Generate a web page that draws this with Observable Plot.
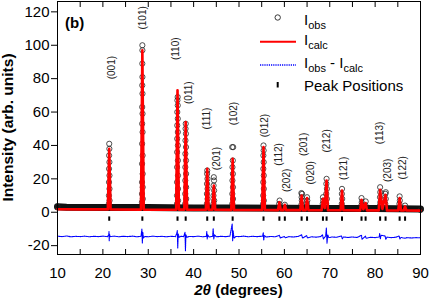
<!DOCTYPE html>
<html><head><meta charset="utf-8">
<script src="https://cdn.jsdelivr.net/npm/d3@7"></script>
<script src="https://cdn.jsdelivr.net/npm/@observablehq/plot@0.6"></script>
<style>html,body{margin:0;padding:0;background:#fff;}</style>
</head><body><div id="chart"></div>
<script>
// ---- data ----
const xTickLabels = [10, 20, 30, 40, 50, 60, 70, 80, 90];
const xTickMarks = [10, 15, 20, 25, 30, 35, 40, 45, 50, 55, 60, 65, 70, 75, 80, 85, 90];
const yTickLabels = [-20, 0, 20, 40, 60, 80, 100, 120];

const peakPositions = [21.4, 28.7, 36.45, 38.25, 43.0, 44.45, 48.6, 55.4, 58.9, 60.1, 63.8, 65.0, 68.5, 69.3, 72.7, 77.0, 77.9, 81.1, 82.3, 85.4, 86.6];

const hklLabels = ["(001)","(101)","(110)","(011)","(111)","(201)","(102)","(012)","(112)","(202)","(201)","(020)","(212)","(121)","(113)","(203)","(122)"];
const hklX = [21.97, 28.77, 36.15, 38.96, 42.8, 45.0, 48.8, 55.7, 58.7, 60.5, 64.2, 65.9, 69.4, 73.1, 81.1, 82.7, 86.0];
const hklY = [86.6, 116.4, 97.9, 71.6, 56.1, 32.2, 59.1, 51.9, 34.6, 19.1, 40.6, 23.6, 42.7, 26.3, 47.5, 25.1, 26.6];

// observed background band
const obsBackground = [[10,3.3],[12,3.0],[20,2.9],[30,2.8],[40,2.6],[50,2.5],[60,2.4],[70,2.3],[80,2.2],[90,2.0]];

// observed points on the peaks
const obsPoints = [
[10,3.5],
[21.32,5],[21.48,7],[21.34,10],[21.46,14],[21.35,18],[21.45,22],[21.36,26],[21.44,30],[21.37,34],[21.43,38],[21.4,41],
[28.6,6],[28.8,8],[28.62,11],[28.78,15],[28.63,18],[28.77,23],[28.64,29],[28.76,34],[28.65,41],[28.75,48],[28.66,53],[28.74,59],[28.67,63],[28.73,71],[28.68,76],[28.72,81],[28.69,89],[28.71,97],[28.7,100],
[36.33,5],[36.57,7],[36.34,10],[36.56,14],[36.35,18],[36.55,22],[36.36,27],[36.54,31],[36.37,36],[36.53,40],[36.38,44],[36.52,48],[36.39,52],[36.51,56],[36.4,60],[36.5,64],[36.42,67],[36.48,69],
[38.14,5],[38.36,8],[38.15,11],[38.35,15],[38.16,19],[38.34,23],[38.17,27],[38.33,31],[38.18,35],[38.32,39],[38.2,43],[38.3,47],[38.22,50],[38.26,53],
[42.92,5],[43.08,8],[42.93,11],[43.07,14],[42.95,17],[43.05,20],[42.97,23],[43.0,25],
[44.37,5],[44.53,7],[44.38,10],[44.52,13],[44.4,16],[44.5,19],[44.45,21],
[48.52,5],[48.68,8],[48.53,11],[48.67,15],[48.55,19],[48.65,23],[48.56,27],[48.64,31],[48.5,39],[48.72,39],
[55.32,5],[55.48,7],[55.33,10],[55.47,14],[55.34,18],[55.46,22],[55.36,26],[55.44,30],[55.37,34],[55.43,37],[55.4,40],
[58.85,5],[58.95,7],
[60.1,4.5],
[63.75,4.5],[63.85,7],[63.8,9],[63.75,11.5],[63.9,11],
[64.95,5],[65.05,7],[65.0,9],
[68.45,5],[68.55,7],[68.5,9],
[69.22,5],[69.38,8],[69.23,11],[69.37,14],[69.25,17],[69.3,20],
[72.65,5],[72.75,8],[72.67,11],[72.7,14],
[76.95,4],[77.05,6],[77.0,8.5],
[77.9,4],[77.92,6.5],
[81.05,4],[81.15,6],[81.07,9],[81.13,12],[81.1,15],
[82.25,5],[82.35,8],[82.27,11],[82.35,12],
[85.35,5],[85.45,7],[85.4,9.5],
[86.6,4],
[90,1.3]
];

// calculated profile
const calcProfile = [
[10,1.8],[15,1.75],[21.1,1.7],[21.4,38],[21.7,1.7],[28.4,1.6],[28.7,97],[29.0,1.6],
[36.15,1.5],[36.45,73],[36.75,1.6],[37.95,1.6],[38.25,54],[38.55,1.5],
[42.7,1.5],[43.0,26],[43.3,1.5],[44.15,1.5],[44.45,16],[44.75,1.5],
[48.3,1.4],[48.6,32],[48.9,1.4],[55.1,1.35],[55.4,39],[55.7,1.35],
[58.6,1.3],[58.9,6],[59.2,1.3],[59.8,1.3],[60.1,4.5],[60.4,1.3],
[63.5,1.25],[63.8,10],[64.1,1.25],[64.7,1.25],[65.0,8.5],[65.3,1.25],
[68.2,1.2],[68.5,8],[68.9,2.5],[69.3,19],[69.6,1.2],[72.4,1.2],[72.7,13],[73.0,1.2],
[76.7,1.15],[77.0,7.5],[77.4,1.8],[77.9,5.5],[78.2,1.15],
[80.8,1.1],[81.1,13.5],[81.6,2],[82.3,10.5],[82.6,1.1],
[85.1,1.05],[85.4,8.5],[85.7,1.05],[86.3,1.05],[86.6,3.5],[86.9,1.05],[90,1.0]
];

// difference curve
const diffCurve = [
[10,-14.3],[11,-14.6],[12,-14.2],[13,-14.7],[14,-14.4],[15,-14.6],[16,-14.3],[17,-14.7],[18,-14.4],[19,-14.6],[20,-14.3],[21,-14.6],
[21.3,-13.5],[21.35,-11.5],[21.4,-17],[21.45,-13],[21.6,-14.6],[22.5,-14.3],[23.5,-14.7],[24.5,-14.4],[25.5,-14.6],[26.5,-14.3],[27.5,-14.7],
[28.4,-14.4],[28.6,-10],[28.7,-18.5],[28.8,-12],[28.95,-15.5],[29.2,-14.5],[30,-14.7],[31,-14.3],[32,-14.6],[33,-14.4],[34,-14.7],[35,-14.4],[36,-14.6],
[36.3,-12.5],[36.4,-11],[36.5,-21.5],[36.6,-13],[36.8,-15],[37.2,-14.4],[37.8,-14.6],[38.1,-12],[38.2,-23],[38.3,-13.5],[38.5,-15],
[39,-14.5],[40,-14.6],[41,-14.3],[42,-14.7],[42.8,-14.4],[42.9,-11.5],[43.0,-16],[43.1,-13.5],[43.4,-14.8],[44.2,-14.4],[44.3,-9.8],[44.45,-16],[44.6,-13.5],
[45,-14.7],[46,-14.4],[47,-14.6],[48,-14.3],[48.5,-7],[48.6,-17],[48.7,-11],[48.9,-15.5],[49.3,-14.5],[50,-14.6],[51,-14.3],[52,-14.7],[53,-14.4],[54,-14.6],
[55.2,-14.3],[55.35,-12.3],[55.45,-16.7],[55.6,-14],[56,-14.8],[57,-14.5],[58,-14.7],[58.9,-13.8],[59.1,-15.4],[60,-14.5],[60.2,-15.3],[61,-14.6],[62,-14.8],[63,-14.5],
[63.8,-13.5],[64,-15.5],[64.9,-14],[65.1,-15.4],[66,-14.7],[67,-14.9],[68,-14.6],[68.4,-13.5],[68.6,-16],[69.1,-14.2],[69.25,-9.5],[69.4,-18.5],[69.55,-13.5],[69.8,-15.2],
[70.5,-14.8],[71.5,-15.0],[72.6,-14.2],[72.75,-16],[73,-14.8],[74,-15.1],[75,-14.8],[76,-15.1],[77.0,-13.8],[77.1,-16.2],[77.9,-14.3],[78,-15.6],[79,-15],[80,-15.2],
[80.9,-14.8],[81.0,-12.6],[81.15,-16],[81.3,-13.8],[82.2,-14.2],[82.35,-16.3],[82.6,-14.9],[83.5,-15.2],[84.5,-15],[85.3,-14.2],[85.45,-16],[85.7,-15.1],
[86.6,-15.6],[87,-15.2],[88,-15.4],[89,-15.2],[90,-15.3]
];

// ---- chart ----
const FONT = "'Liberation Sans', Arial, Helvetica, sans-serif";
const svg = Plot.plot({
  width: 429, height: 307,
  marginLeft: 57, marginRight: 9, marginTop: 1, marginBottom: 53,
  style: {fontFamily: FONT, background: "#fff", color: "#000", overflow: "visible"},
  x: {domain: [10, 90]},
  y: {domain: [-25.3, 126.2]},
  marks: [
    Plot.line(obsBackground, {x: d => d[0], y: d => d[1], stroke: "#111", strokeWidth: 7}),
    Plot.dot(obsPoints, {x: d => d[0], y: d => d[1], r: 2.6, stroke: "#222", strokeWidth: 0.8, fill: "none"}),
    Plot.line(calcProfile, {x: d => d[0], y: d => d[1], stroke: "#ff0000", strokeWidth: 2.6, strokeLinejoin: "round"}),
    Plot.line(diffCurve, {x: d => d[0], y: d => d[1], stroke: "#0000ff", strokeWidth: 1.1, strokeDasharray: "1.2,0.7"}),
    Plot.ruleX(peakPositions, {x: d => d, y1: -2.8, y2: -5.4, stroke: "#000", strokeWidth: 2}),
    Plot.text(hklLabels, {x: (d, i) => hklX[i], y: (d, i) => hklY[i], text: d => d, rotate: -90, fontSize: 10, fill: "#222"}),
    Plot.frame({stroke: "#000", strokeWidth: 1}),
    Plot.axisX(xTickLabels, {anchor: "bottom", tickSize: 0, tickPadding: 13, fontSize: 15, label: null, fill: "#000"}),
    Plot.axisX(xTickMarks, {anchor: "bottom", tickSize: -5, tickFormat: () => "", label: null}),
    Plot.axisX(xTickMarks, {anchor: "top", tickSize: -5, tickFormat: () => "", label: null}),
    Plot.axisY(yTickLabels, {anchor: "left", tickSize: 6, tickPadding: 2, fontSize: 15, tickFormat: d => String(d), label: null, fill: "#000"})
  ]
});
document.getElementById("chart").appendChild(svg);

// ---- annotations & legend ----
const s = d3.select(svg);
const g = s.append("g").attr("font-family", FONT).attr("fill", "#000").attr("text-anchor", "start");

g.append("text").attr("x", 65).attr("y", 28).attr("font-size", 15).attr("font-weight", "bold").text("(b)");

const xt = g.append("text").attr("x", 238.5).attr("y", 295).attr("text-anchor", "middle")
  .attr("font-size", 15).attr("font-weight", "bold");
xt.append("tspan").attr("font-style", "italic").text("2\u03B8");
xt.append("tspan").text(" (degrees)");

g.append("text").attr("transform", "translate(13,127.5) rotate(-90)").attr("text-anchor", "middle")
  .attr("font-size", 15.5).attr("font-weight", "bold").text("Intensity (arb. units)");

// legend
g.append("circle").attr("cx", 277.7).attr("cy", 17.5).attr("r", 2.7).attr("fill", "none").attr("stroke", "#222").attr("stroke-width", 0.9);
g.append("line").attr("x1", 260).attr("x2", 296).attr("y1", 41.7).attr("y2", 41.7).attr("stroke", "#ff0000").attr("stroke-width", 2);
g.append("line").attr("x1", 260).attr("x2", 296).attr("y1", 65).attr("y2", 65).attr("stroke", "#0000ff").attr("stroke-width", 1.3).attr("stroke-dasharray", "1.2,1");
g.append("line").attr("x1", 277.7).attr("x2", 277.7).attr("y1", 82).attr("y2", 87.5).attr("stroke", "#000").attr("stroke-width", 2);

function legendLabel(y, parts) {
  const t = g.append("text").attr("x", 304).attr("y", y).attr("font-size", 15);
  let shifted = false;
  parts.forEach(([txt, sub]) => {
    let dy = 0;
    if (sub && !shifted) { dy = 4; shifted = true; }
    else if (!sub && shifted) { dy = -4; shifted = false; }
    t.append("tspan").attr("font-size", sub ? 11 : 15).attr("dy", dy).text(txt);
  });
}
legendLabel(25, [["I", false], ["obs", true]]);
legendLabel(45, [["I", false], ["calc", true]]);
legendLabel(68, [["I", false], ["obs", true], [" - I", false], ["calc", true]]);
g.append("text").attr("x", 304).attr("y", 91).attr("font-size", 15).text("Peak Positions");
</script>
</body></html>
